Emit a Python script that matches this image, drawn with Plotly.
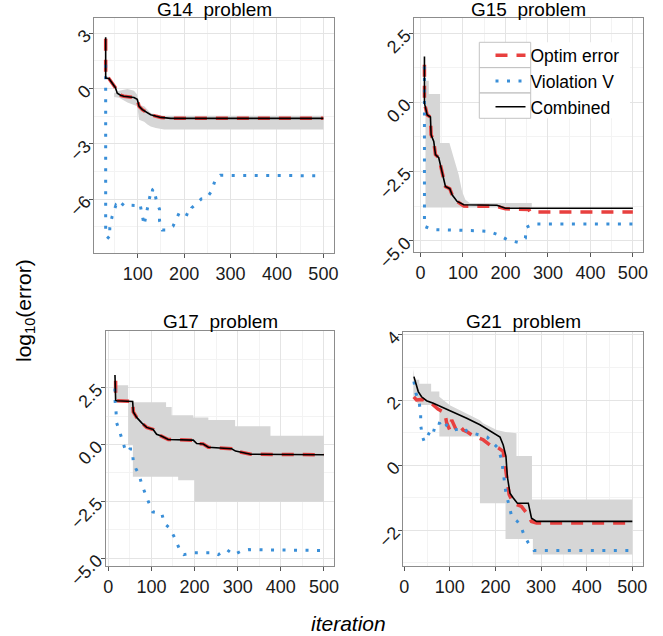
import plotly.graph_objects as go

# ---------------- data ----------------
# G14
g14_comb_x = [31, 31, 38, 45, 52, 56, 63, 70, 92, 99, 101, 103, 110, 120, 128, 140, 150, 171, 500]
g14_comb_y = [2.79, 0.58, 0.55, 0.31, 0.05, -0.25, -0.36, -0.41, -0.48, -0.58, -0.80, -0.96, -1.14, -1.30, -1.41, -1.50, -1.56, -1.61, -1.61]
g14_opt_x = [31, 31, 38, 45, 52, 56, 63, 70, 92, 99, 101, 103, 110, 120, 128, 140, 150, 171, 500]
g14_opt_y = [2.70, 0.58, 0.55, 0.31, 0.05, -0.25, -0.36, -0.41, -0.48, -0.58, -0.80, -0.96, -1.14, -1.30, -1.41, -1.50, -1.56, -1.61, -1.61]
g14_vio_x = [31, 31, 39, 40, 45, 53, 60, 70, 81, 88, 99, 105, 110, 114, 117, 119, 123, 127, 130, 132, 135, 140,
             147, 147, 153, 164, 176, 183, 191, 206, 211, 216, 226, 237, 248, 259, 266, 278, 500]
g14_vio_y = [1.3, -7.95, -8.13, -7.52, -6.92, -6.32, -6.5, -6.2, -6.32, -6.32, -6.34, -6.25, -6.8, -7.41, -6.97,
             -6.73, -6.25, -5.75, -5.84, -5.48, -5.42, -6.05, -6.54, -7.16, -7.66, -7.66, -7.46, -7.1, -6.65,
             -6.83, -6.87, -6.47, -6.25, -5.98, -5.95, -5.57, -5.02, -4.70, -4.72]
g14_rib_x = [49, 60, 78, 92, 99, 103, 114, 121, 128, 139, 157, 500]
g14_rib_hi = [-0.25, -0.11, -0.02, -0.11, -0.33, -0.87, -0.96, -1.14, -1.32, -1.41, -1.47, -1.47]
g14_rib_lo = [-0.45, -0.50, -0.75, -0.87, -0.96, -1.68, -1.80, -1.95, -2.05, -2.13, -2.22, -2.22]

# G15
g15_comb_x = [9.4, 9.4, 12, 15.7, 23.5, 25, 31.3, 35.3, 43, 51, 58.8, 69, 74.5, 86.3, 102, 180, 200, 500]
g15_comb_y = [1.66, -0.03, -0.2, -0.45, -0.53, -1.17, -1.41, -1.89, -2.0, -2.56, -3.04, -3.12, -3.34, -3.58, -3.70, -3.72, -3.83, -3.83]
g15_opt_x = [9.4, 9.4, 12, 15.7, 23.5, 25, 31.3, 35.3, 43, 51, 58.8, 69, 74.5, 86.3, 102, 180, 200, 255, 258, 500]
g15_opt_y = [1.36, -0.03, -0.2, -0.45, -0.53, -1.17, -1.41, -1.89, -2.0, -2.56, -3.04, -3.12, -3.34, -3.58, -3.75, -3.76, -3.85, -3.87, -3.96, -3.96]
g15_vio_x = [9.4, 9.4, 27.4, 51, 79, 110, 135, 162, 184, 205, 229, 247, 249, 265, 500]
g15_vio_y = [1.3, -4.48, -4.6, -4.61, -4.61, -4.62, -4.64, -4.67, -4.79, -4.97, -5.06, -4.91, -4.52, -4.40, -4.40]
g15_rib_x = [11.8, 19.6, 19.6, 46.3, 46.3, 68.2, 78.4, 90, 98, 105.8, 116, 262]
g15_rib_hi = [0.78, 0.78, 0.30, 0.30, -1.47, -1.47, -2.01, -2.62, -3.22, -3.52, -3.64, -3.64]
g15_rib_lo = [-3.80, -3.80, -3.80, -3.80, -3.80, -3.80, -3.80, -3.80, -3.80, -3.80, -3.80, -3.80]

# G17
g17_comb_x = [15.5, 17, 19.3, 56.5, 58, 65.8, 77.4, 89, 104, 112, 123, 139, 197, 205, 220, 232, 286, 295, 330, 500]
g17_comb_y = [3.05, 1.95, 1.92, 1.89, 1.43, 1.19, 0.95, 0.75, 0.66, 0.45, 0.37, 0.22, 0.19, 0.04, 0.02, -0.12, -0.19, -0.29, -0.43, -0.45]
g17_opt_x = [17, 17, 19.3, 56.5, 58, 65.8, 77.4, 89, 104, 112, 123, 139, 197, 205, 220, 232, 286, 295, 330, 500]
g17_opt_y = [2.80, 1.95, 1.92, 1.89, 1.43, 1.19, 0.95, 0.75, 0.66, 0.45, 0.37, 0.22, 0.19, 0.04, 0.02, -0.12, -0.19, -0.29, -0.43, -0.45]
g17_vio_x = [15.5, 15.5, 17.9, 19.4, 27, 33.3, 38, 45, 50, 55.6, 58, 64, 72, 77.4, 85, 94, 103, 124, 130, 143,
             152, 160, 168, 175, 197, 220, 243.5, 255, 274.5, 291, 311, 326, 500]
g17_vio_y = [2.46, 1.97, 1.46, 0.95, 0.53, 0.1, -0.15, -0.34, -0.2, -0.2, -0.76, -1.06, -1.35, -1.75, -2.16,
             -2.56, -2.96, -3.03, -3.47, -3.69, -4.03, -4.38, -4.72, -4.84, -4.76, -4.76, -4.76, -4.84, -4.62,
             -4.84, -4.66, -4.62, -4.66]
g17_rib_x = [15.5, 46, 46, 57, 57, 134, 134, 147, 147, 162, 162, 197, 197, 200, 200, 232, 232, 294, 294, 376, 376, 500]
g17_rib_hi = [2.6, 2.6, 1.86, 1.86, 1.86, 1.86, 1.65, 1.65, 1.29, 1.29, 1.29, 1.29, 1.19, 1.19, 1.19, 1.19,
              1.08, 1.08, 0.8, 0.8, 0.38, 0.38]
g17_rib_lo = [1.85, 1.85, -0.03, -0.03, -1.42, -1.42, -1.42, -1.42, -1.42, -1.42, -1.57, -1.57, -1.57, -1.57,
              -2.52, -2.52, -2.52, -2.52, -2.52, -2.52, -2.52, -2.52]

# G21
g21_comb_x = [21.3, 26, 30.8, 38, 49, 63.8, 100, 137, 166, 184.5, 202.6, 210, 217, 223, 226, 231.8, 239, 248, 272, 279, 290, 500]
g21_comb_y = [2.72, 2.46, 2.26, 2.1, 1.98, 1.9, 1.68, 1.44, 1.24, 1.08, 0.9, 0.86, 0.62, 0.27, -0.35, -0.86, -1.01, -1.17, -1.17, -1.63, -1.73, -1.73]
g21_opt_x = [21, 27, 41, 61, 74, 89, 93, 100, 104, 114, 122, 129, 137, 148, 173, 188, 206, 217, 224, 230, 239,
             257, 268, 279, 290, 500]
g21_opt_y = [2.1, 2.0, 2.02, 1.88, 1.72, 1.61, 1.3, 1.08, 1.39, 1.08, 1.2, 1.08, 1.03, 0.93, 0.78, 0.62, 0.53,
             0.42, -0.3, -0.9, -1.17, -1.27, -1.47, -1.73, -1.78, -1.78]
g21_vio_x = [21.3, 26, 33, 36, 36.4, 40.3, 44, 49, 58, 63.5, 69.5, 78, 82, 93, 107.5, 118, 128, 137, 146, 164.5,
             182, 196.5, 206, 213.5, 217, 221, 223, 230, 235.5, 248, 255, 262.5, 272, 284.4, 500]
g21_vio_y = [2.57, 2.2, 1.92, 1.56, 1.2, 0.86, 0.72, 0.83, 1.08, 0.98, 1.31, 1.28, 1.13, 1.23, 1.08, 1.1, 1.16,
             1.05, 1.0, 0.93, 0.86, 0.65, 0.52, 0.16, -0.2, -0.55, -0.86, -1.25, -1.58, -1.73, -1.86, -2.14,
             -2.39, -2.62, -2.62]
g21_rib_x = [20, 23, 23, 33, 33, 59, 59, 77, 77, 100, 137, 166, 166, 173, 203, 222, 222, 246, 246, 280, 280, 282, 282, 500]
g21_rib_hi = [2.95, 2.62, 2.62, 2.62, 2.5, 2.5, 2.26, 2.26, 2.1, 1.84, 1.58, 1.38, 1.38, 1.29, 1.08, 1.02, 1.02,
              0.98, 0.28, 0.28, -1.06, -1.06, -1.06, -1.06]
g21_rib_lo = [2.1, 2.0, 2.0, 1.85, 1.85, 1.85, 1.85, 1.85, 0.88, 0.88, 0.88, 0.88, -1.17, -1.17, -1.17, -1.17,
              -2.27, -2.27, -2.27, -2.27, -2.27, -2.27, -2.75, -2.75]

titles = ["G14\u00a0 problem", "G15\u00a0 problem", "G17\u00a0 problem", "G21\u00a0 problem"]
x_ticks = [0, 100, 200, 300, 400, 500]
x_ticktext = ["0", "100", "200", "300", "400", "500"]
x_minor = [50, 150, 250, 350, 450]
g14_yticks, g14_yticktext, g14_yminor = [-6, -3, 0, 3], ["\u22126", "\u22123", "0", "3"], [-7.5, -4.5, -1.5, 1.5]
g15_yticks, g15_yticktext, g15_yminor = [-5, -2.5, 0, 2.5], ["\u22125.0", "\u22122.5", "0.0", "2.5"], [-3.75, -1.25, 1.25]
g17_yticks, g17_yticktext, g17_yminor = [-5, -2.5, 0, 2.5], ["\u22125.0", "\u22122.5", "0.0", "2.5"], [-3.75, -1.25, 1.25, 3.75]
g21_yticks, g21_yticktext, g21_yminor = [-2, 0, 2, 4], ["\u22122", "0", "2", "4"], [-3, -1, 1, 3]
series_names = ["Optim error", "Violation V", "Combined"]

# ---------------- style ----------------
W, H = 663, 636
RED = "#E8403F"
BLUE = "#3A8FD8"
RIB = "#D6D6D6"
GRID = "#E4E4E4"
GRID_MINOR = "#F3F3F3"
BORDER = "#8C8C8C"
FONT = "Liberation Sans, Arial, sans-serif"

panels = [
    dict(sfx="", px=(94.3, 334.3), py=(18.0, 253.0), xr=[6.5, 523.5], yr=[-8.91, 3.83], tb=15.0,
         comb=(g14_comb_x, g14_comb_y), opt=(g14_opt_x, g14_opt_y), vio=(g14_vio_x, g14_vio_y),
         rib=(g14_rib_x, g14_rib_lo, g14_rib_hi), yt=(g14_yticks, g14_yticktext, g14_yminor), title=titles[0], leg=False),
    dict(sfx="2", px=(414.3, 643.3), py=(18.3, 252.3), xr=[-14.5, 524.5], yr=[-5.42, 3.04], tb=15.0,
         comb=(g15_comb_x, g15_comb_y), opt=(g15_opt_x, g15_opt_y), vio=(g15_vio_x, g15_vio_y),
         rib=(g15_rib_x, g15_rib_lo, g15_rib_hi), yt=(g15_yticks, g15_yticktext, g15_yminor), title=titles[1], leg=True),
    dict(sfx="3", px=(105.7, 334.3), py=(330.7, 566.0), xr=[-6, 524], yr=[-5.34, 5.0], tb=326.7,
         comb=(g17_comb_x, g17_comb_y), opt=(g17_opt_x, g17_opt_y), vio=(g17_vio_x, g17_vio_y),
         rib=(g17_rib_x, g17_rib_lo, g17_rib_hi), yt=(g17_yticks, g17_yticktext, g17_yminor), title=titles[2], leg=False),
    dict(sfx="4", px=(403.3, 643.3), py=(331.7, 566.0), xr=[-2, 524], yr=[-3.1, 4.1], tb=326.7,
         comb=(g21_comb_x, g21_comb_y), opt=(g21_opt_x, g21_opt_y), vio=(g21_vio_x, g21_vio_y),
         rib=(g21_rib_x, g21_rib_lo, g21_rib_hi), yt=(g21_yticks, g21_yticktext, g21_yminor), title=titles[3], leg=False),
]

fig = go.Figure()
layout = dict(
    width=W, height=H, margin=dict(l=0, r=0, t=0, b=0, autoexpand=False),
    paper_bgcolor="white", plot_bgcolor="white",
    font=dict(family=FONT, size=17, color="#1A1A1A"),
    annotations=[], shapes=[],
)

for p in panels:
    xa, ya = "x" + p["sfx"], "y" + p["sfx"]
    rx, rlo, rhi = p["rib"]
    fig.add_trace(go.Scatter(x=rx, y=rlo, xaxis=xa, yaxis=ya, mode="lines", line=dict(width=0, color=RIB),
                             showlegend=False, hoverinfo="skip"))
    fig.add_trace(go.Scatter(x=rx, y=rhi, xaxis=xa, yaxis=ya, mode="lines", line=dict(width=0, color=RIB),
                             fill="tonexty", fillcolor=RIB, showlegend=False, hoverinfo="skip"))
    fig.add_trace(go.Scatter(x=p["opt"][0], y=p["opt"][1], xaxis=xa, yaxis=ya, mode="lines", name=series_names[0],
                             line=dict(color=RED, width=3.5, dash="12px,9px"), showlegend=p["leg"], legendgroup="o"))
    fig.add_trace(go.Scatter(x=p["vio"][0], y=p["vio"][1], xaxis=xa, yaxis=ya, mode="lines", name=series_names[1],
                             line=dict(color=BLUE, width=3, dash="3px,8.5px"), showlegend=p["leg"], legendgroup="v"))
    fig.add_trace(go.Scatter(x=p["comb"][0], y=p["comb"][1], xaxis=xa, yaxis=ya, mode="lines", name=series_names[2],
                             line=dict(color="black", width=1.6), showlegend=p["leg"], legendgroup="c"))

    x0, x1 = p["px"]
    y0, y1 = p["py"]
    yt, ytt, ymin = p["yt"]
    layout["xaxis" + p["sfx"]] = dict(
        domain=[x0 / W, x1 / W], range=p["xr"], anchor=ya, tickmode="array", tickvals=x_ticks, ticktext=x_ticktext,
        showgrid=True, gridcolor=GRID, gridwidth=1.2, zeroline=False, showline=True, mirror=True,
        linecolor=BORDER, linewidth=1, ticks="outside", ticklen=4, tickcolor="#555555", automargin=False,
        tickfont=dict(size=18, color="#1A1A1A"),
        minor=dict(tickmode="array", tickvals=x_minor, showgrid=True, gridcolor=GRID_MINOR, gridwidth=0.8, ticks=""),
    )
    layout["yaxis" + p["sfx"]] = dict(
        domain=[1 - y1 / H, 1 - y0 / H], range=p["yr"], anchor=xa, tickmode="array", tickvals=yt, ticktext=ytt,
        showgrid=True, gridcolor=GRID, gridwidth=1.2, zeroline=False, showline=True, mirror=True,
        linecolor=BORDER, linewidth=1, ticks="outside", ticklen=4, tickcolor="#555555", tickangle=-45,
        automargin=False, tickfont=dict(size=18, color="#1A1A1A"),
        minor=dict(tickmode="array", tickvals=ymin, showgrid=True, gridcolor=GRID_MINOR, gridwidth=0.8, ticks=""),
    )
    layout["annotations"].append(dict(
        text=p["title"], xref="paper", yref="paper", x=(x0 + x1) / 2 / W, y=1 - (p["tb"] - 5.5) / H,
        xanchor="center", yanchor="middle", showarrow=False, font=dict(size=19, color="black")))

# axis titles
layout["annotations"].append(dict(
    text="log<sub>10</sub>(error)", xref="paper", yref="paper", x=25 / W, y=1 - 311 / H,
    xanchor="center", yanchor="middle", textangle=-90, showarrow=False, font=dict(size=21, color="black")))
layout["annotations"].append(dict(
    text="<i>iteration</i>", xref="paper", yref="paper", x=348 / W, y=1 - 623 / H,
    xanchor="center", yanchor="middle", showarrow=False, font=dict(size=21, color="black")))

# legend background and key boxes
layout["shapes"].append(dict(type="rect", xref="paper", yref="paper", layer="above",
                             x0=479.3 / W, x1=630 / W, y0=1 - 118.3 / H, y1=1 - 42.3 / H,
                             fillcolor="white", line=dict(width=0)))
for top, bot in [(42.3, 67.6), (67.6, 92.9), (92.9, 118.3)]:
    layout["shapes"].append(dict(type="rect", xref="paper", yref="paper", layer="above",
                                 x0=479.3 / W, x1=530.7 / W, y0=1 - bot / H, y1=1 - top / H,
                                 fillcolor="rgba(0,0,0,0)", line=dict(color="#C4C4C4", width=1)))

layout["legend"] = dict(x=490.5 / W, y=1 - 37.3 / H, xanchor="left", yanchor="top", bgcolor="rgba(0,0,0,0)",
                        borderwidth=0, font=dict(size=17.5, color="black"), tracegroupgap=0)

fig.update_layout(**layout)
fig.write_html("out.html", config={"displayModeBar": False},
               post_script="document.body.style.margin='0px';document.body.style.overflow='hidden';")
